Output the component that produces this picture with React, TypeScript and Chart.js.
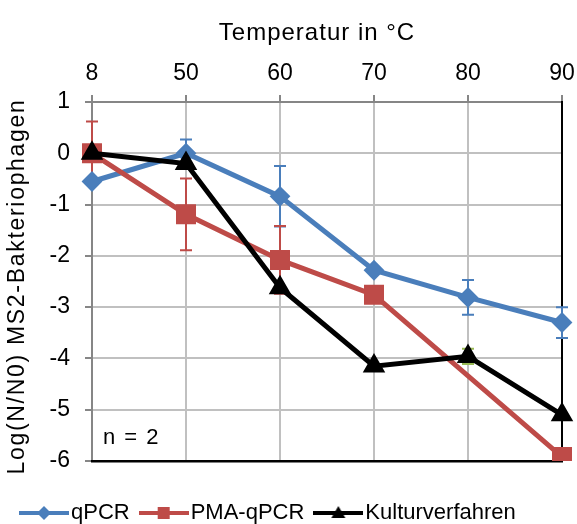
import React, { useEffect, useRef } from 'react';
import { Chart, registerables } from 'chart.js';

Chart.register(...registerables);

// ---- data ----
const temperatures = ['8', '50', '60', '70', '80', '90'];
const seriesNames = ['qPCR', 'PMA-qPCR', 'Kulturverfahren'];
const qpcr = [-0.55, 0.0, -0.84, -2.28, -2.81, -3.3];
const qpcrErr = [0, 0.27, 0.59, 0, 0.34, 0.3];
const pma = [0.0, -1.19, -2.08, -2.76, null, -5.92];
const pmaErr = [0.62, 0.7, 0.66, 0, 0, 0];
const kultur = [0.0, -0.2, -2.62, -4.15, -3.96, -5.1];
const kulturErr = [0, 0, 0, 0, 0.15, 0];
const yMin = -6;
const yMax = 1;
const xTitle = 'Temperatur in °C';
const yTitle = 'Log(N/N0) MS2-Bakteriophagen';
const note = 'n = 2';

const FONT = '"Liberation Sans", Arial, sans-serif';
const BLUE = '#4A7EBB';
const RED = '#BE4B48';
const BLACK = '#000000';
const OLIVE = '#98B954';
const GRID = '#C0C0C0';
const AXIS = '#868686';

function makeIcon(color: string, shape: string) {
  const c = document.createElement('canvas');
  c.width = 50;
  c.height = 24;
  const g = c.getContext('2d')!;
  g.strokeStyle = color;
  g.lineWidth = 4;
  g.beginPath();
  g.moveTo(0, 12);
  g.lineTo(50, 12);
  g.stroke();
  g.fillStyle = color;
  g.beginPath();
  if (shape === 'diamond') {
    g.moveTo(25, 5);
    g.lineTo(32, 12);
    g.lineTo(25, 19);
    g.lineTo(18, 12);
  } else if (shape === 'square') {
    g.rect(19, 6, 12, 12);
  } else {
    g.moveTo(25, 5);
    g.lineTo(32, 17);
    g.lineTo(18, 17);
  }
  g.closePath();
  g.fill();
  return c;
}

const errorBarPlugin = {
  id: 'errorBars',
  beforeDatasetsDraw(chart: any) {
    const { ctx } = chart;
    chart.data.datasets.forEach((ds: any) => {
      const errs = ds.errors;
      if (!errs) return;
      const x = chart.scales[ds.xAxisID];
      const y = chart.scales[ds.yAxisID];
      ctx.save();
      ctx.strokeStyle = ds.errorColor;
      ctx.lineWidth = 2;
      ds.data.forEach((v: number | null, i: number) => {
        const e = errs[i];
        if (v == null || !e) return;
        const px = x.getPixelForValue(i);
        const top = y.getPixelForValue(v + e);
        const bot = y.getPixelForValue(v - e);
        ctx.beginPath();
        ctx.moveTo(px, top);
        ctx.lineTo(px, bot);
        ctx.moveTo(px - 6, top);
        ctx.lineTo(px + 6, top);
        ctx.moveTo(px - 6, bot);
        ctx.lineTo(px + 6, bot);
        ctx.stroke();
      });
      ctx.restore();
    });
  },
};

const textPlugin = {
  id: 'texts',
  afterDraw(chart: any) {
    const { ctx, chartArea } = chart;
    ctx.save();
    ctx.fillStyle = '#000';
    // axis title (top)
    ctx.font = `24px ${FONT}`;
    (ctx as any).letterSpacing = '1px';
    ctx.textAlign = 'center';
    ctx.textBaseline = 'middle';
    ctx.fillText(xTitle, (chartArea.left + chartArea.right) / 2 - 10, 33.5);
    // y title
    ctx.save();
    ctx.font = `23px ${FONT}`;
    (ctx as any).letterSpacing = '1.7px';
    ctx.translate(18, (chartArea.top + chartArea.bottom) / 2 + 5);
    ctx.rotate(-Math.PI / 2);
    ctx.fillText(yTitle, 0, 0);
    ctx.restore();
    // note
    ctx.font = `22px ${FONT}`;
    (ctx as any).letterSpacing = '1.5px';
    ctx.textAlign = 'left';
    ctx.textBaseline = 'alphabetic';
    ctx.fillText(note, chartArea.left + 11, chartArea.bottom - 17);
    ctx.restore();
  },
};

export default function App() {
  const ref = useRef<HTMLCanvasElement>(null);
  useEffect(() => {
    document.body.style.margin = '0';
    document.body.style.overflow = 'hidden';
    const icons = [makeIcon(BLUE, 'diamond'), makeIcon(RED, 'square'), makeIcon(BLACK, 'triangle')];
    const tickFont = { family: FONT, size: 23 };
    const chart = new Chart(ref.current!, {
      type: 'line',
      data: {
        labels: temperatures,
        datasets: [
          {
            label: seriesNames[0],
            data: qpcr,
            errors: qpcrErr,
            errorColor: BLUE,
            borderColor: BLUE,
            backgroundColor: BLUE,
            borderWidth: 5,
            pointStyle: 'rectRot',
            pointRadius: 9,
            pointBorderWidth: 2,
            pointBackgroundColor: BLUE,
            pointBorderColor: BLUE,
            xAxisID: 'x',
            yAxisID: 'y',
            order: 3,
            tension: 0,
          } as any,
          {
            label: seriesNames[1],
            data: pma,
            errors: pmaErr,
            errorColor: RED,
            borderColor: RED,
            backgroundColor: RED,
            borderWidth: 5,
            pointStyle: 'rect',
            pointRadius: 12.7,
            pointBorderWidth: 2,
            pointBackgroundColor: RED,
            pointBorderColor: RED,
            spanGaps: true,
            xAxisID: 'x',
            yAxisID: 'y',
            order: 2,
            tension: 0,
          } as any,
          {
            label: seriesNames[2],
            data: kultur,
            errors: kulturErr,
            errorColor: OLIVE,
            borderColor: BLACK,
            backgroundColor: BLACK,
            borderWidth: 5,
            pointStyle: 'triangle',
            pointRadius: 11,
            pointBorderWidth: 2,
            pointBackgroundColor: BLACK,
            pointBorderColor: BLACK,
            xAxisID: 'x',
            yAxisID: 'y',
            order: 1,
            tension: 0,
          } as any,
        ],
      },
      options: {
        responsive: false,
        animation: false,
        events: [],
        layout: { padding: { left: 10, right: 0, top: 0, bottom: -10 } },
        scales: {
          x: {
            type: 'category',
            position: 'top',
            offset: false,
            grid: {
              color: (c: any) => (c.index === 0 || c.index === temperatures.length - 1 ? 'rgba(0,0,0,0)' : GRID),
              lineWidth: 2,
              tickColor: AXIS,
              tickWidth: 2,
              tickLength: 7,
            },
            border: { display: true, color: AXIS, width: 2 },
            ticks: { font: tickFont, color: '#000', padding: 8, maxRotation: 0, autoSkip: false },
            afterFit: (s: any) => {
              s.height = 102;
              s.paddingLeft = 0;
              s.paddingRight = 0;
            },
          },
          y: {
            type: 'linear',
            position: 'left',
            min: yMin,
            max: yMax,
            grid: {
              color: (c: any) => (c.tick && (c.tick.value === yMax || c.tick.value === yMin) ? 'rgba(0,0,0,0)' : GRID),
              lineWidth: 2,
              tickColor: AXIS,
              tickWidth: 2,
              tickLength: 7,
            },
            border: { display: true, color: AXIS, width: 2 },
            ticks: { font: tickFont, color: '#000', padding: 15, stepSize: 1 },
            afterFit: (s: any) => {
              s.width = 82;
              s.paddingTop = 0;
              s.paddingBottom = 0;
            },
          },
          x2: {
            type: 'category',
            axis: 'x',
            position: 'bottom',
            offset: false,
            grid: { display: false },
            ticks: { display: false },
            border: { display: true, color: BLACK, width: 2.5 },
            afterFit: (s: any) => {
              s.height = 23;
              s.paddingLeft = 0;
              s.paddingRight = 0;
            },
          },
          y2: {
            type: 'linear',
            axis: 'y',
            position: 'right',
            min: yMin,
            max: yMax,
            grid: { display: false },
            ticks: { display: false },
            border: { display: true, color: BLACK, width: 2 },
            afterFit: (s: any) => {
              s.width = 15;
              s.paddingTop = 0;
              s.paddingBottom = 0;
            },
          },
        } as any,
        plugins: {
          title: { display: false },
          tooltip: { enabled: false },
          legend: {
            position: 'bottom',
            align: 'start',
            labels: {
              usePointStyle: true,
              pointStyleWidth: 32,
              padding: 18,
              color: '#000',
              font: { family: FONT, size: 22 },
              generateLabels: (ch: any) => {
                const items = (Chart.defaults.plugins.legend.labels as any).generateLabels(ch);
                items.sort((a: any, b: any) => a.datasetIndex - b.datasetIndex);
                return items.map((it: any) => ({ ...it, pointStyle: icons[it.datasetIndex], rotation: 0 }));
              },
            },
          } as any,
        },
      },
      plugins: [errorBarPlugin, textPlugin],
    } as any);
    return () => chart.destroy();
  }, []);
  return (
    <div style={{ width: 577, height: 524 }}>
      <canvas ref={ref} width={577} height={524} style={{ display: 'block' }} />
    </div>
  );
}
